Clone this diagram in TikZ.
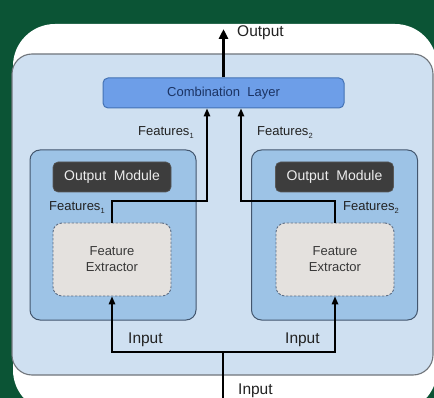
\documentclass[tikz,border=0pt]{standalone}
\usepackage{fontspec}
\setmainfont{Liberation Sans}
\usetikzlibrary{arrows.meta}
\definecolor{bggreen}{HTML}{0B5435}
\definecolor{outerfill}{HTML}{CFE0F1}
\definecolor{outerdraw}{HTML}{70757B}
\definecolor{modfill}{HTML}{9DC3E6}
\definecolor{moddraw}{HTML}{43566E}
\definecolor{omfill}{HTML}{3D3D3D}
\definecolor{omtext}{HTML}{EDEDED}
\definecolor{combfill}{HTML}{6D9EE8}
\definecolor{combdraw}{HTML}{4472B4}
\definecolor{combtext}{HTML}{1B3363}
\definecolor{fefill}{HTML}{E4E1DE}
\definecolor{fedraw}{HTML}{5B6C84}
\definecolor{txt}{HTML}{222222}
\newcommand{\subidx}[1]{\raisebox{-2.5pt}{\fontsize{7.5}{8}\selectfont #1}}
\begin{document}
\begin{tikzpicture}[x=1pt,y=-1pt,
  outerbox/.style={draw=outerdraw,line width=1.1pt,fill=outerfill,rounded corners=20pt,
    minimum width=421pt,minimum height=321pt,inner sep=0pt},
  modbox/.style={draw=moddraw,line width=1pt,fill=modfill,rounded corners=10pt,
    minimum width=166pt,minimum height=170pt,inner sep=0pt},
  ombox/.style={fill=omfill,draw=black!65,line width=0.6pt,rounded corners=5pt,
    minimum width=118pt,minimum height=30pt,inner sep=0pt,text=omtext,
    font=\fontsize{14}{16}\selectfont},
  combbox/.style={fill=combfill,draw=combdraw,line width=1pt,rounded corners=5pt,
    minimum width=241pt,minimum height=30pt,inner sep=0pt,text=combtext,
    font=\fontsize{13}{15}\selectfont},
  febox/.style={fill=fefill,draw=fedraw,line width=0.9pt,dash pattern=on 2.5pt off 1.5pt,
    rounded corners=9pt,minimum width=118pt,minimum height=73pt,inner sep=0pt,
    align=center,text=txt!90!white,font=\fontsize{13}{16}\selectfont},
  conn/.style={line width=1.6pt,black},
  arr/.style={conn,-{Triangle[length=8pt,width=6.5pt]}},
  bigarr/.style={line width=2.6pt,black,-{Triangle[length=10pt,width=9pt]}},
  flbl/.style={inner sep=0pt,anchor=base west,text=txt,font=\fontsize{13}{15}\selectfont},
  iolbl/.style={inner sep=0pt,anchor=base west,text=txt,font=\fontsize{15.5}{17}\selectfont}
]
\useasboundingbox (0,0) rectangle (434,398);
\clip (0,0) rectangle (434,398);
\fill[bggreen] (0,0) rectangle (434,398);
\fill[white,rounded corners=42pt] (13,24) rectangle (437,412);

\node[outerbox] (outer) at (222.5,214.5) {};
\node[modbox] (modL) at (113,235) {};
\node[modbox] (modR) at (334.5,235) {};
\node[ombox] (omL) at (112,177) {Output\ \ Module};
\node[ombox] (omR) at (334.5,177) {Output\ \ Module};
\node[febox] (feL) at (112,259.5) {Feature\\Extractor};
\node[febox] (feR) at (335,259.5) {Feature\\Extractor};
\node[combbox] (comb) at (223.5,93) {Combination\ \ Layer};

% feature paths
\coordinate (aL) at (207,201);
\coordinate (aR) at (241,201);
\draw[arr] (feL.north) |- (aL) -- (aL |- comb.south);
\draw[arr] (feR.north) |- (aR) -- (aR |- comb.south);

% output
\coordinate (outTip) at (223.5,29);
\draw[bigarr] (comb.north) -- (outTip);
\node[iolbl] (outLbl) at (237,37) {Output};

% input
\coordinate (inB) at (223,400);
\coordinate (inJ) at (223,352);
\draw[line width=2.2pt] (inB) -- (inJ);
\draw[arr] (inJ) -| (feL.south);
\draw[arr] (inJ) -| (feR.south);
\node[iolbl] (inLbl) at (238,394.3) {Input};
\node[iolbl] (inLblL) at (128,343) {Input};
\node[iolbl] (inLblR) at (285,343) {Input};

% feature labels
\node[flbl] (f1u) at (138,136) {Features\subidx{1}};
\node[flbl] (f2u) at (257,136) {Features\subidx{2}};
\node[flbl] (f1l) at (49,211) {Features\subidx{1}};
\node[flbl] (f2l) at (343,211) {Features\subidx{2}};
\end{tikzpicture}
\end{document}
